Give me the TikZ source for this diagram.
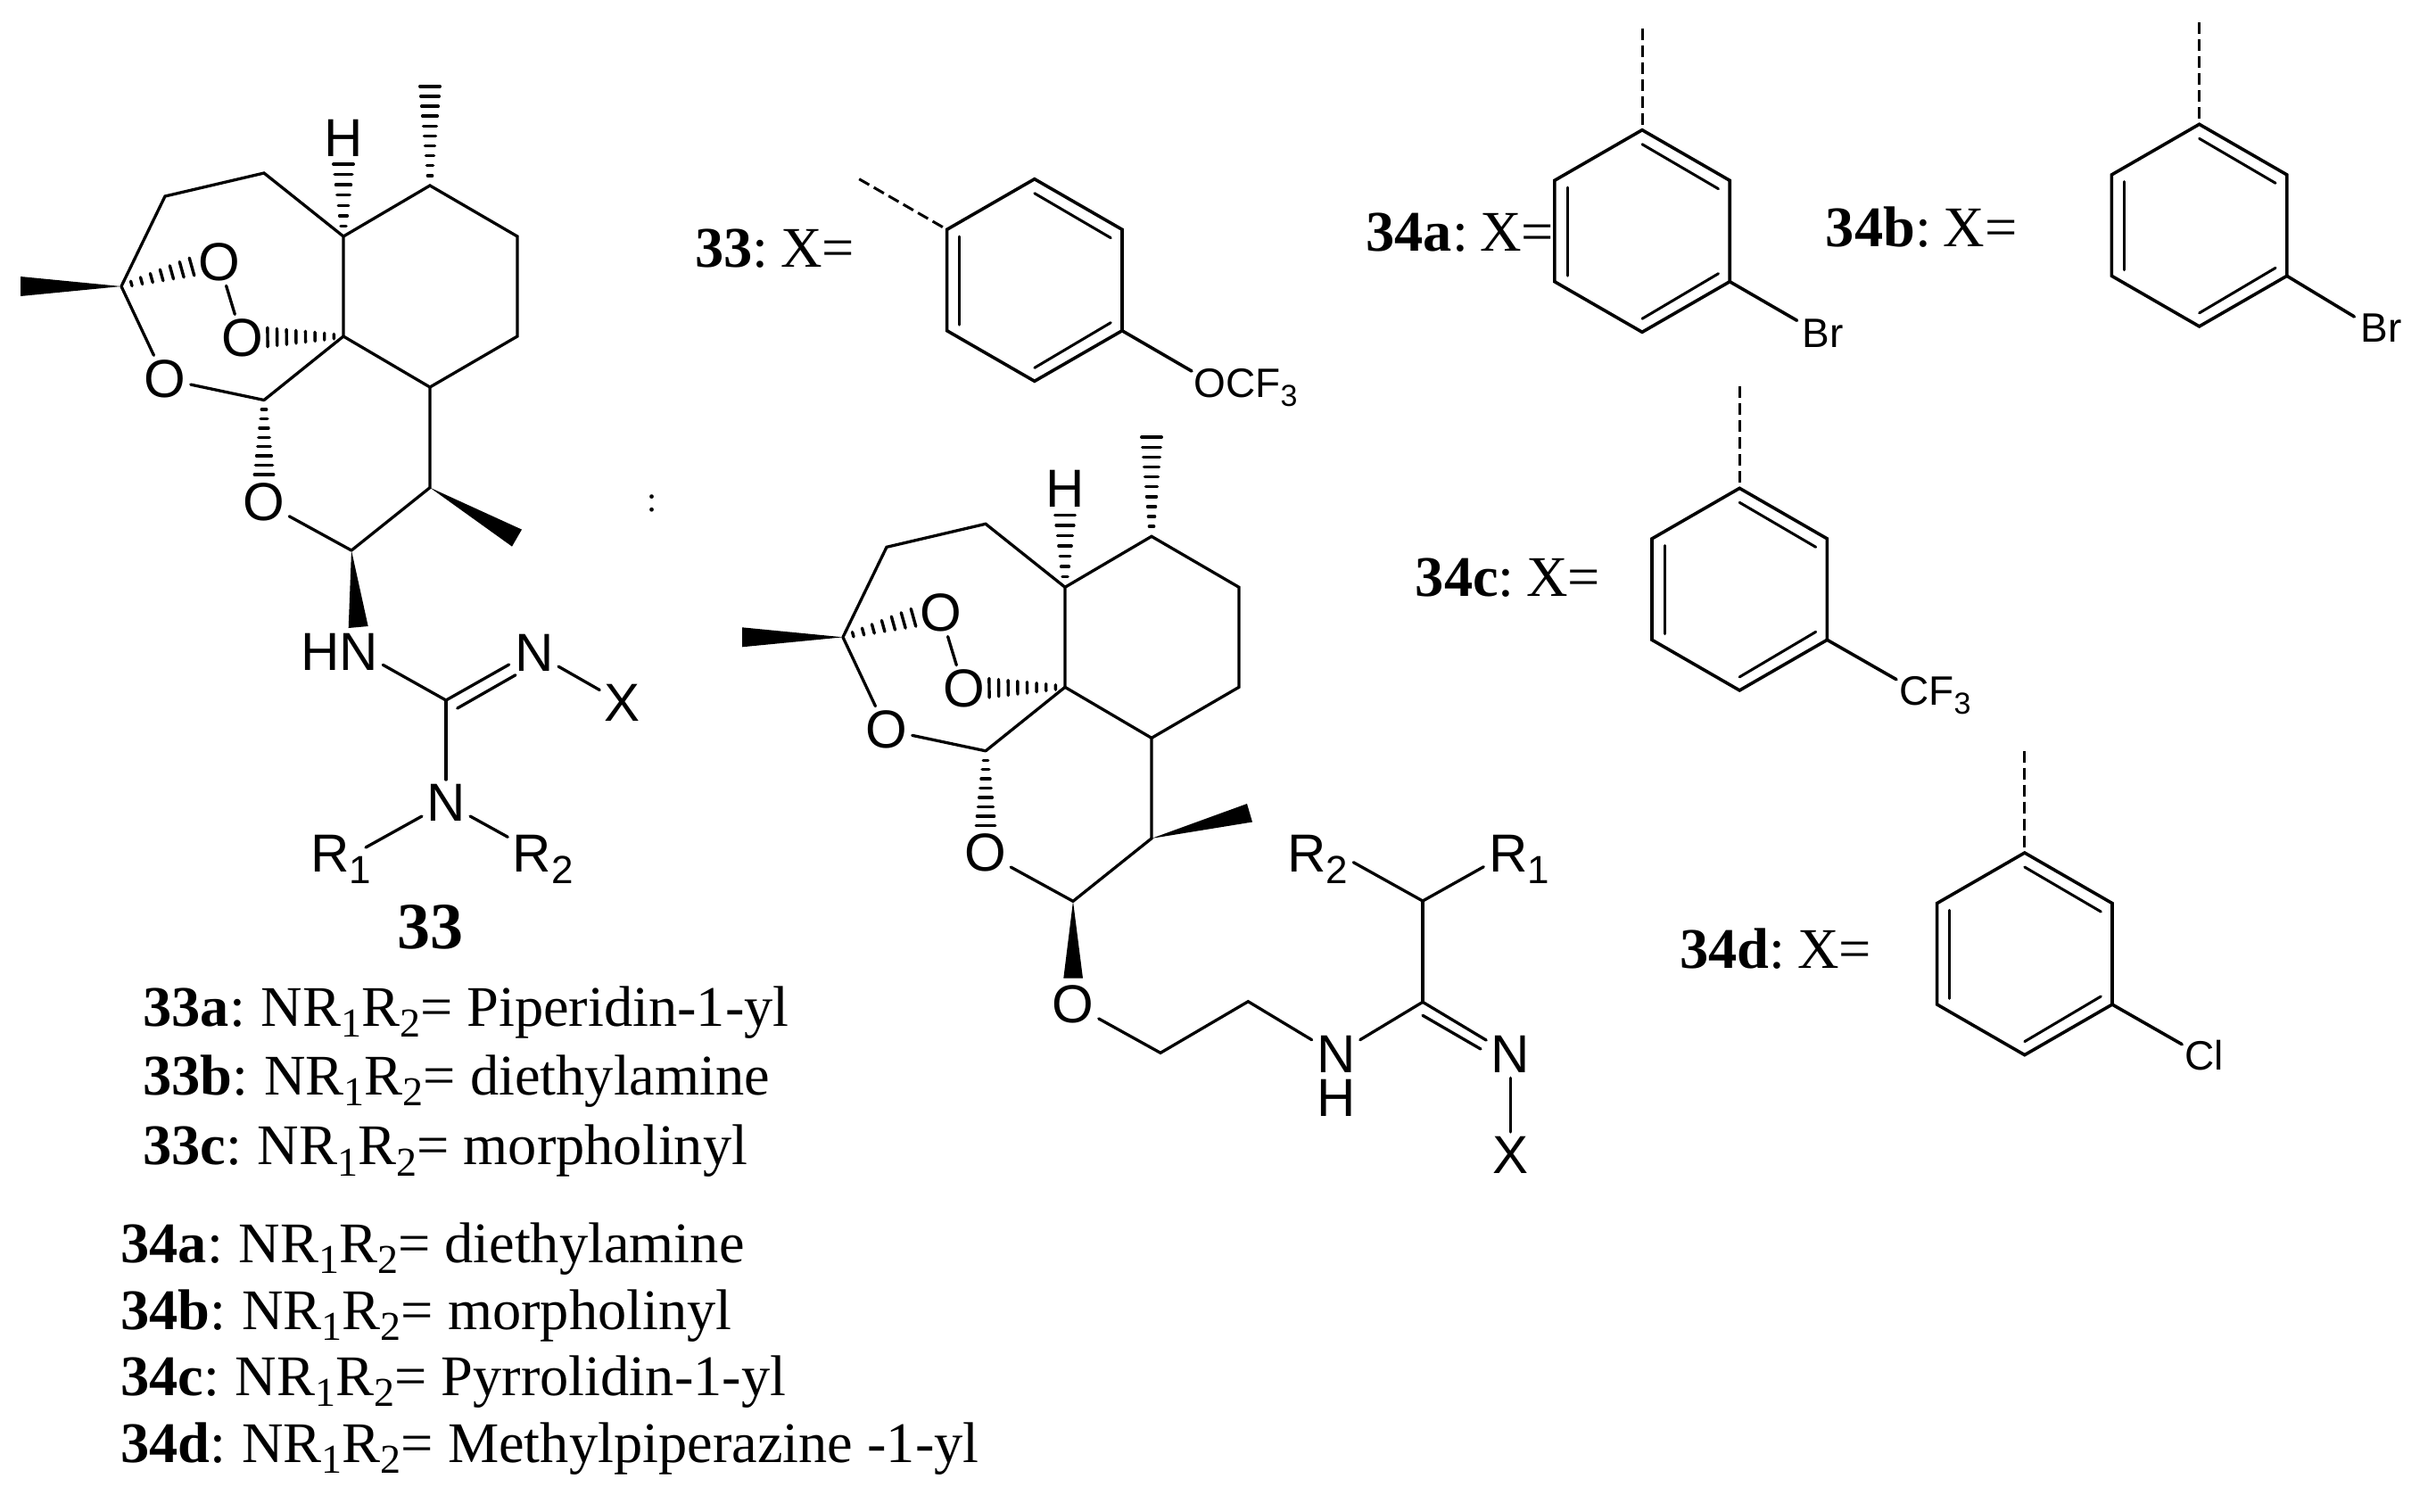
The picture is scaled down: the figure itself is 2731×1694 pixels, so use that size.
\documentclass[tikz,border=0pt]{standalone}
\usepackage{fontspec}
\setmainfont{Liberation Serif}
\newfontfamily\arialfont{Liberation Sans}
\usetikzlibrary{calc}
\newcommand{\sbs}[1]{\raisebox{-0.2em}{\fontsize{23}{23}\selectfont #1}}
\newcommand{\asbs}[1]{\raisebox{-0.22em}{\fontsize{22}{22}\selectfont #1}}
\newcommand{\bsbs}[1]{\raisebox{-0.22em}{\fontsize{17}{17}\selectfont #1}}
\newcommand{\nrr}{NR\sbs{1}R\sbs{2}=}
\newcommand{\lgap}{:\hspace{0.275em}}
\newcommand{\xgap}{:\hspace{0.21em}}
% hashed bond: from, to, strokes, final width in px
\newcommand{\hashbond}[4]{%
  \foreach \hi in {1,...,#3}{%
    \pgfmathsetmacro{\hw}{(#4-3.5)/4*(0.15+0.85*\hi/#3)}%
    \pgfmathsetmacro{\ht}{\hi/#3}%
    \draw[hashstroke] ($(#1)!\ht!(#2)!\hw pt!90:(#1)$) -- ($(#1)!\ht!(#2)!\hw pt!-90:(#1)$);
  }}
% the artemisinin-type skeleton, in local pixel coordinates
\newcommand{\skeleton}[2]{%
  \coordinate (a) at (136,321);
  \coordinate (b) at (185,220);
  \coordinate (c) at (296,194);
  \coordinate (d) at (385,265);
  \coordinate (e) at (482,208);
  \coordinate (f) at (580,265);
  \coordinate (g) at (580,377);
  \coordinate (h) at (482,434);
  \coordinate (i) at (385,377);
  \coordinate (j) at (296,448.5);
  \coordinate (k) at (482,546.6);
  \coordinate (l) at (394,617);
  \coordinate (mea1) at (23,310);
  \coordinate (mea2) at (23,332);
  \coordinate (hO1) at (215,299);
  \coordinate (hO2) at (300,378);
  \coordinate (hH) at (385,184);
  \coordinate (hMe) at (482,96.8);
  \coordinate (hO4) at (296,532);
  \coordinate (mek1) at #1;
  \coordinate (mek2) at #2;
  \node[atom] (O1) at (245.5,293.6) {O};
  \node[atom] (O2) at (271.4,379) {O};
  \node[atom] (O3) at (185,425) {O};
  \node[atom] (O4) at (295.5,563) {O};
  \node[atom] (Hd) at (385,155) {H};
  \draw[bond] (a) -- (b) -- (c) -- (d) -- (e) -- (f) -- (g) -- (h) -- (i) -- (d);
  \draw[bond] (i) -- (j);
  \draw[bond] (h) -- (k) -- (l);
  \draw[bond] (a) -- (O3);
  \draw[bond] (O3) -- (j);
  \draw[bond] (O4) -- (l);
  \draw[bond] (O1) -- (O2);
  \fill (a) -- (mea1) -- (mea2) -- cycle;
  \fill (k) -- (mek1) -- (mek2) -- cycle;
  \hashbond{a}{hO1}{7}{24}
  \hashbond{i}{hO2}{8}{25}
  \hashbond{d}{hH}{7}{26}
  \hashbond{e}{hMe}{10}{26}
  \hashbond{j}{hO4}{8}{25}
}
% benzene ring, in coordinates relative to the scope's centre
\newcommand{\ring}{%
  \coordinate (r1) at (0,-113.3);
  \coordinate (r2) at (98.2,-56.7);
  \coordinate (r3) at (98.2,56.7);
  \coordinate (r4) at (0,113.3);
  \coordinate (r5) at (-98.2,56.7);
  \coordinate (r6) at (-98.2,-56.7);
  \draw[ringbond] (r1) -- (r2) -- (r3) -- (r4) -- (r5) -- (r6) -- cycle;
  \coordinate (i1) at (0,-97.3);
  \coordinate (i2) at (85.5,-47.3);
  \coordinate (i3) at (85.5,47.7);
  \coordinate (i4) at (0,98.3);
  \coordinate (i5) at (-84,50);
  \coordinate (i6) at (-84,-49);
  \draw[innerbond] (i1) -- (i2);
  \draw[innerbond] (i3) -- (i4);
  \draw[innerbond] (i5) -- (i6);
}
\tikzset{
  bond/.style={line width=1.65pt,line cap=round,line join=miter},
  ringbond/.style={line width=1.8pt,line cap=round,line join=miter},
  innerbond/.style={line width=1.5pt,line cap=round},
  dashbond/.style={line width=1.5pt,dash pattern=on 6.5pt off 3pt},
  hashstroke/.style={line width=1.7pt,line cap=round},
  atom/.style={inner sep=2.5pt,font=\arialfont\fontsize{30}{30}\selectfont},
  rlabel/.style={inner sep=0pt,anchor=base west,font=\arialfont\fontsize{30}{30}\selectfont},
  sublabel/.style={inner sep=0pt,anchor=base west,font=\arialfont\fontsize{23}{23}\selectfont},
  txt/.style={inner sep=0pt,anchor=base west,font=\fontsize{32.2}{32.2}\selectfont},
  bigtxt/.style={inner sep=0pt,anchor=base west,font=\bfseries\fontsize{37}{37}\selectfont},
}
\begin{document}
\begin{tikzpicture}[x=0.5pt,y=-0.5pt]
\useasboundingbox (0,0) rectangle (2731,1694);
% ---- molecule 33
\begin{scope}[name prefix=A-]
  \skeleton{(585,593.6)}{(574,612.6)}
  \coordinate (wl1) at (390.7,704);
  \coordinate (wl2) at (412.7,702);
  \fill (l) -- (wl1) -- (wl2) -- cycle;
  \node[atom,inner sep=0pt] (HN) at (381,731) {HN};
  \coordinate (C) at (500,785);
  \coordinate (HNb) at (429.3,745.3);
  \node[atom] (Nr) at (599,731.7) {N};
  \node[atom] (X) at (697.7,788) {X};
  \node[atom] (Nl) at (500,900) {N};
  \coordinate (Cd) at (512.7,794);
  \coordinate (Nd) at (578,756.7);
  \coordinate (Nu) at (570.7,745);
  \draw[bond] (HNb) -- (C) -- (Nu);
  \draw[bond] (Cd) -- (Nd);
  \draw[bond] (Nr) -- (X);
  \draw[bond] (C) -- (Nl);
  \node[rlabel] (R1) at (348,977.7) {R\asbs{1}};
  \node[rlabel] (R2) at (574.5,977.7) {R\asbs{2}};
  \coordinate (R1b) at (410,950);
  \coordinate (R2b) at (569.3,938.3);
  \draw[bond] (Nl) -- (R1b);
  \draw[bond] (Nl) -- (R2b);
\end{scope}
\node[bigtxt] (n33) at (445,1063) {33};
% ---- molecule 34
\begin{scope}[name prefix=B-,shift={(809,393.3)}]
  \skeleton{(589,507.7)}{(595,528.2)}
\end{scope}
\coordinate (wO1) at (1192.3,1096.7);
\coordinate (wO2) at (1214,1096.7);
\fill (B-l) -- (wO1) -- (wO2) -- cycle;
\node[atom] (O5) at (1203,1126) {O};
\coordinate (c1) at (1301,1180.3);
\coordinate (c2) at (1399.3,1122.7);
\node[atom] (N2) at (1497.7,1182) {N};
\node[atom,inner sep=0pt] (H2) at (1497.7,1231) {H};
\coordinate (C2) at (1595,1123.3);
\coordinate (CH) at (1595,1010);
\node[atom] (N3) at (1693.3,1182.3) {N};
\node[atom] (X3) at (1693.3,1295) {X};
\coordinate (Cd2) at (1595,1138.3);
\coordinate (Nd2) at (1660,1176);
\node[rlabel] (R2m) at (1443,977.7) {R\asbs{2}};
\node[rlabel] (R1m) at (1669,977.7) {R\asbs{1}};
\coordinate (R2mb) at (1517.3,966.7);
\coordinate (R1mb) at (1663.3,971.7);
\draw[bond] (O5) -- (c1) -- (c2) -- (N2);
\draw[bond] (N2) -- (C2);
\draw[bond] (C2) -- (N3);
\draw[bond] (Cd2) -- (Nd2);
\draw[bond] (N3) -- (X3);
\draw[bond] (C2) -- (CH);
\draw[bond] (R2mb) -- (CH) -- (R1mb);
% ---- stray colon
\node[inner sep=0pt,font=\fontsize{20}{20}\selectfont] (colon) at (731,564) {:};
% ---- ring of 33
\begin{scope}[name prefix=P-,shift={(1159.8,314)}]
  \ring
  \coordinate (dash) at (-196.6,-113.3);
  \draw[dashbond] (dash) -- (r6);
  \coordinate (OCb) at (176.2,102);
  \draw[ringbond] (r3) -- (OCb);
\end{scope}
\node[sublabel] (OCF3) at (1338,445) {OCF\bsbs{3}};
% ---- ring of 34a
\begin{scope}[name prefix=Q-,shift={(1841,259)}]
  \ring
  \coordinate (dash) at (0,-227.3);
  \draw[dashbond] (dash) -- (r1);
  \coordinate (BrB) at (173.6,100.3);
  \draw[ringbond] (r3) -- (BrB);
\end{scope}
\node[sublabel] (Bra) at (2020.5,389.3) {Br};
% ---- ring of 34b
\begin{scope}[name prefix=S-,shift={(2465.6,252.6)}]
  \ring
  \coordinate (dash) at (0,-227.6);
  \draw[dashbond] (dash) -- (r1);
  \coordinate (BrB) at (173.8,102.4);
  \draw[ringbond] (r3) -- (BrB);
\end{scope}
\node[sublabel] (Brb) at (2646,383) {Br};
% ---- ring of 34c
\begin{scope}[name prefix=T-,shift={(1950.2,660.6)}]
  \ring
  \coordinate (dash) at (0,-227.3);
  \draw[dashbond] (dash) -- (r1);
  \coordinate (CFb) at (175.8,101.1);
  \draw[ringbond] (r3) -- (CFb);
\end{scope}
\node[sublabel] (CF3) at (2129,790.7) {CF\bsbs{3}};
% ---- ring of 34d
\begin{scope}[name prefix=U-,shift={(2269.8,1069.3)}]
  \ring
  \coordinate (dash) at (0,-227.6);
  \draw[dashbond] (dash) -- (r1);
  \coordinate (ClB) at (176.4,101.4);
  \draw[ringbond] (r3) -- (ClB);
\end{scope}
\node[sublabel] (Cl) at (2449,1199.3) {Cl};
% ---- X= labels
\node[txt] (t33) at (779,299.3) {\textbf{33}\xgap X=};
\node[txt] (t34a) at (1531,281) {\textbf{34a}\xgap X=};
\node[txt] (t34b) at (2046.5,276.7) {\textbf{34b}\xgap X=};
\node[txt] (t34c) at (1586.5,668.3) {\textbf{34c}\xgap X=};
\node[txt] (t34d) at (1883,1085) {\textbf{34d}\xgap X=};
% ---- list
\node[txt] (l33a) at (160,1150) {\textbf{33a}\lgap\nrr{} Piperidin-1-yl};
\node[txt] (l33b) at (160,1227) {\textbf{33b}\lgap\nrr{} diethylamine};
\node[txt] (l33c) at (160,1305.6) {\textbf{33c}\lgap\nrr{} morpholinyl};
\node[txt] (l34a) at (135,1415) {\textbf{34a}\lgap\nrr{} diethylamine};
\node[txt] (l34b) at (135,1490) {\textbf{34b}\lgap\nrr{} morpholinyl};
\node[txt] (l34c) at (135,1564) {\textbf{34c}\lgap\nrr{} Pyrrolidin-1-yl};
\node[txt] (l34d) at (135,1639) {\textbf{34d}\lgap\nrr{} Methylpiperazine -1-yl};
\end{tikzpicture}
\end{document}
